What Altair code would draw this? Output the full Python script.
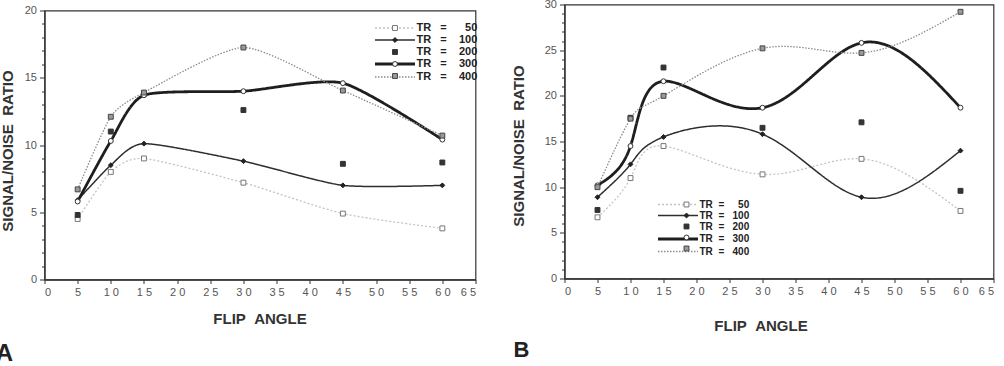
import altair as alt
import pandas as pd

# ---------------- data ----------------
angles = [5, 10, 15, 30, 45, 60]
tr_names = ["50", "100", "200", "300", "400"]
tr_marker_keys = ["p50", "p100", "p200", "p300", "p400"]

# Panel A
a_tr50 = [4.5, 8.0, 9.0, 7.2, 4.9, 3.8]
a_tr100 = [5.9, 8.5, 10.1, 8.8, 7.0, 7.0]
a_tr200 = [4.8, 11.0, 13.8, 12.6, 8.6, 8.7]
a_tr300 = [5.8, 10.3, 13.7, 14.0, 14.6, 10.4]
a_tr400 = [6.7, 12.1, 13.9, 17.25, 14.05, 10.7]

# Panel B
b_tr50 = [6.7, 11.0, 14.5, 11.4, 13.1, 7.4]
b_tr100 = [8.9, 12.5, 15.5, 15.8, 8.9, 14.0]
b_tr200 = [7.5, 17.6, 23.1, 16.5, 17.1, 9.6]
b_tr300 = [10.2, 14.5, 21.6, 18.7, 25.8, 18.7]
b_tr400 = [10.0, 17.5, 20.0, 25.2, 24.7, 29.2]


def long_frame(series):
    rows = []
    for name, key, vals in zip(tr_names, tr_marker_keys, series):
        for a, v in zip(angles, vals):
            rows.append({"angle": a, "snr": v, "TR": name, "TRp": key})
    return pd.DataFrame(rows)


df_a = long_frame([a_tr50, a_tr100, a_tr200, a_tr300, a_tr400])
df_b = long_frame([b_tr50, b_tr100, b_tr200, b_tr300, b_tr400])

# ---------------- styles ----------------
line_colors = ["#c4c4c4", "#2e2e2e", "#ffffff", "#1e1e1e", "#8c8c8c"]
line_dashes = [[2, 2], [1, 0], [1, 0], [1, 0], [1.5, 1.5]]
line_widths = [1.3, 1.5, 0, 2.8, 1.3]
pt_shapes = ["square", "diamond", "square", "circle", "square"]
pt_fills = ["#ffffff", "#222222", "#333333", "#ffffff", "#9a9a9a"]
pt_strokes = ["#777777", "#222222", "#333333", "#333333", "#444444"]

FONT = "Liberation Sans"
NB = "\u00a0"
XLAB = "datum.value >= 10 ? floor(datum.value / 10) + ' ' + (datum.value % 10) : datum.label"


def leg_label(g1, g2):
    return ("'TR" + NB * g1 + "=" + NB * g2 + "' + (datum.value < 100 ? '"
            + NB + NB + "' : '') + datum.label")


def make_panel(df, ymax, mark_kw, cfg):
    x_enc = alt.X(
        "angle:Q",
        scale=alt.Scale(domain=[0, 65], nice=False, zero=False),
        axis=alt.Axis(
            values=list(range(0, 66, 5)),
            labelExpr=XLAB,
            title="FLIP" + NB + NB + "ANGLE",
            titlePadding=cfg["xtp"],
            titleX=cfg["xtx"],
            titleAlign="center",
            tickSize=4,
            labelPadding=3,
            grid=False,
        ),
    )
    y_enc = alt.Y(
        "snr:Q",
        scale=alt.Scale(domain=[0, ymax], nice=False, zero=True),
        axis=alt.Axis(
            values=list(range(0, ymax + 1)),
            labelExpr="datum.value % 5 === 0 ? datum.label : ''",
            tickSize={"condition": {"test": "datum.value % 5 === 0", "value": 5}, "value": 3},
            title="SIGNAL/NOISE" + NB + NB + "RATIO",
            titlePadding=cfg["ytp"],
            titleY=cfg["yty"],
            labelPadding=3,
            grid=False,
        ),
    )
    leg_line = alt.Legend(
        title=None, orient="none", legendX=cfg["lx"], legendY=cfg["ly"],
        symbolType="M-5,0H5", symbolSize=64, labelExpr=leg_label(*cfg["gap"]),
        labelFont=FONT, labelFontWeight="bold", labelFontSize=cfg["lfs"],
        labelColor="#222222", labelOffset=cfg["loff"], rowPadding=cfg["rp"],
    )
    leg_pt = alt.Legend(
        title=None, orient="none", legendX=cfg["px"], legendY=cfg["ly"],
        labelExpr="''", labelFontSize=cfg["lfs"], labelFont=FONT,
        symbolSize=24, symbolStrokeWidth=1, rowPadding=cfg["rp"],
    )
    lines = alt.Chart(df).mark_line(**mark_kw).encode(
        x=x_enc, y=y_enc,
        stroke=alt.Stroke("TR:N", sort=tr_names, scale=alt.Scale(domain=tr_names, range=line_colors), legend=leg_line),
        strokeDash=alt.StrokeDash("TR:N", sort=tr_names, scale=alt.Scale(domain=tr_names, range=line_dashes), legend=leg_line),
        strokeWidth=alt.StrokeWidth("TR:N", sort=tr_names, scale=alt.Scale(type="ordinal", domain=tr_names, range=line_widths), legend=leg_line),
    )
    points = alt.Chart(df).mark_point(size=24, strokeWidth=1, opacity=1).encode(
        x=x_enc, y=y_enc,
        shape=alt.Shape("TRp:N", sort=tr_marker_keys, scale=alt.Scale(domain=tr_marker_keys, range=pt_shapes), legend=leg_pt),
        fill=alt.Fill("TRp:N", sort=tr_marker_keys, scale=alt.Scale(domain=tr_marker_keys, range=pt_fills), legend=leg_pt),
        color=alt.Color("TRp:N", sort=tr_marker_keys, scale=alt.Scale(domain=tr_marker_keys, range=pt_strokes), legend=leg_pt),
    )
    tag = alt.Chart(pd.DataFrame({"t": [cfg["tag"]]})).mark_text(
        font=FONT, fontWeight="bold", fontSize=cfg["tfs"], color="#222222", align="center", baseline="alphabetic"
    ).encode(text="t:N", x=alt.value(cfg["tx"]), y=alt.value(cfg["ty"]))
    return alt.layer(lines, points, tag).properties(width=cfg["w"], height=cfg["h"])


cfg_a = dict(w=431, h=269, xtp=14, xtx=215, ytp=9, yty=140, lx=345, px=345, ly=18,
             lfs=11, loff=16, rp=0, gap=(3, 4), tag="A", tfs=24, tx=-40, ty=350)
cfg_b = dict(w=429, h=274, xtp=22, xtx=196, ytp=18, yty=141, lx=108, px=117, ly=195,
             lfs=10, loff=16, rp=1, gap=(2, 3), tag="B", tfs=22, tx=-43, ty=352.5)

panel_a = make_panel(df_a, 20, dict(interpolate="cardinal", tension=0.35), cfg_a)
panel_b = make_panel(df_b, 30, dict(interpolate="natural"), cfg_b)

# panel A sits a few pixels lower than panel B in the original layout
spacer = (
    alt.Chart(pd.DataFrame({"t": [""]}))
    .mark_text()
    .encode(text="t:N")
    .properties(width=1, height=1, view=alt.ViewBackground(stroke="transparent"))
)
panel_a_wrapped = alt.vconcat(spacer, panel_a, spacing=-8)

indep = dict(stroke="independent", strokeDash="independent", strokeWidth="independent",
             shape="independent", fill="independent", color="independent")

chart = (
    alt.concat(panel_a_wrapped, panel_b, columns=2, spacing=33)
    .resolve_scale(**indep)
    .resolve_legend(**indep)
    .properties(padding={"left": -5.5, "top": -2.5, "right": 0, "bottom": 0}, background="white")
    .configure_view(stroke="#333333", strokeWidth=1.2)
    .configure_axis(
        domainColor="#333333", domainWidth=1.3, tickColor="#333333", tickWidth=1,
        labelColor="#555555", labelFont=FONT, labelFontSize=11,
        titleColor="#333333", titleFont=FONT, titleFontSize=15, titleFontWeight="bold",
    )
)

chart.save("out.html", embed_options={"renderer": "svg", "actions": False})
